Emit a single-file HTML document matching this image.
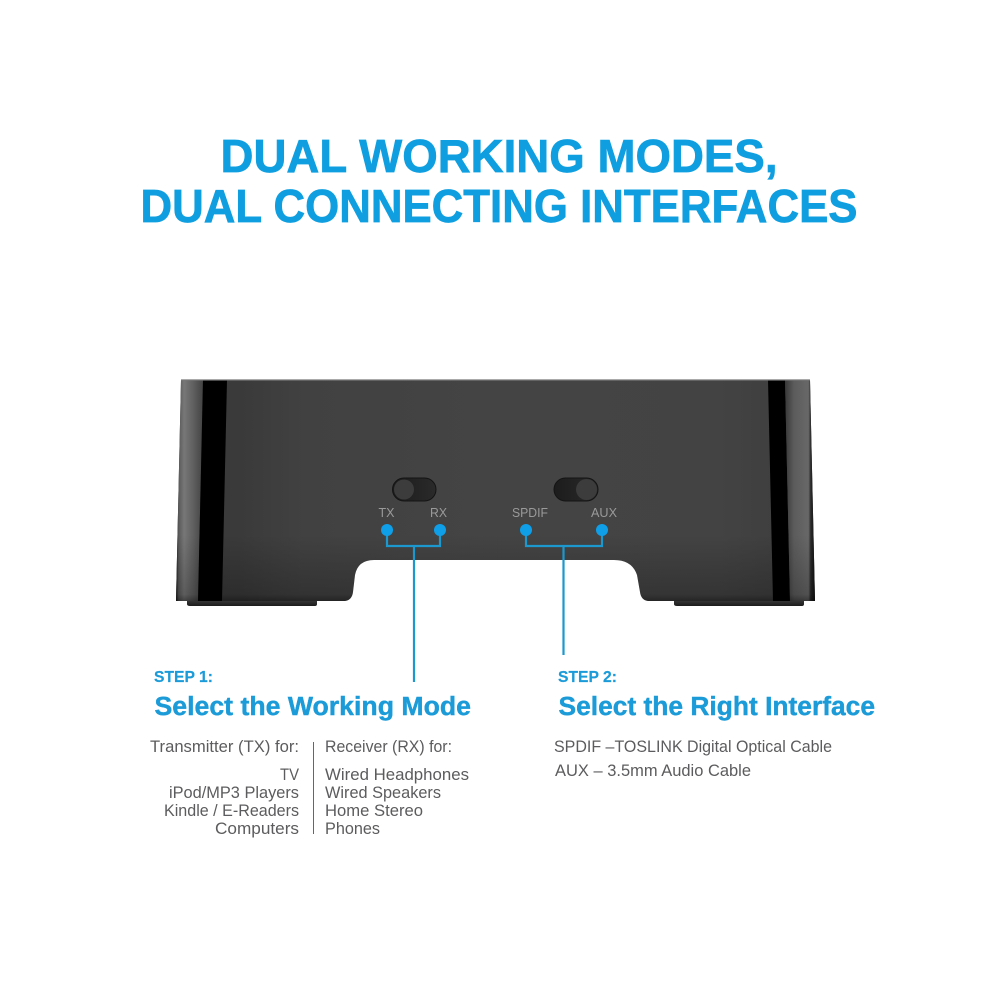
<!DOCTYPE html>
<html>
<head>
<meta charset="utf-8">
<style>
html,body{margin:0;padding:0;background:#fff;width:1000px;height:1000px;overflow:hidden}
svg{display:block}
text{font-family:"Liberation Sans",sans-serif}
.t{font-weight:bold;font-size:46.500px;fill:#0f9fe0;stroke:#0f9fe0;stroke-width:.7px}
.s{font-weight:bold;font-size:15.500px;fill:#1b9bd8;stroke:#1b9bd8;stroke-width:.2px}
.h{font-weight:bold;font-size:25.500px;fill:#1b9bd8;stroke:#1b9bd8;stroke-width:.4px}
.b{font-size:17px;fill:#5c5c5e}
.l{font-size:13px;fill:#9a9a9a}
</style>
</head>
<body>
<svg width="1000" height="1000" viewBox="0 0 1000 1000" xmlns="http://www.w3.org/2000/svg">
<defs>
<linearGradient id="body" x1="0" y1="0" x2="1" y2="0">
<stop offset="0" stop-color="#383838"/><stop offset=".1" stop-color="#3a3a3a"/><stop offset=".2" stop-color="#414141"/><stop offset=".5" stop-color="#444"/><stop offset=".85" stop-color="#434343"/><stop offset="1" stop-color="#3c3c3c"/>
</linearGradient>
<linearGradient id="shade" x1="0" y1="0" x2="0" y2="1">
<stop offset="0" stop-color="#000" stop-opacity="0"/><stop offset=".7" stop-color="#000" stop-opacity="0"/><stop offset=".97" stop-color="#000" stop-opacity=".22"/><stop offset="1" stop-color="#000" stop-opacity=".45"/>
</linearGradient>
<linearGradient id="sl" x1="0" y1="0" x2="1" y2="0">
<stop offset="0" stop-color="#1c1c1c"/><stop offset=".1" stop-color="#5a5a5a"/><stop offset=".3" stop-color="#777"/><stop offset=".65" stop-color="#5f5f5f"/><stop offset="1" stop-color="#434343"/>
</linearGradient>
<linearGradient id="sr" x1="0" y1="0" x2="1" y2="0">
<stop offset="0" stop-color="#383838"/><stop offset=".3" stop-color="#5c5c5c"/><stop offset=".78" stop-color="#686868"/><stop offset=".86" stop-color="#2a2a2a"/><stop offset="1" stop-color="#111"/>
</linearGradient>
<linearGradient id="sw" x1="0" y1="0" x2="1" y2="0">
<stop offset="0" stop-color="#1c1c1c"/><stop offset="1" stop-color="#2a2a2a"/>
</linearGradient>
<linearGradient id="foot" x1="0" y1="0" x2="0" y2="1">
<stop offset="0" stop-color="#3a3a3a"/><stop offset="1" stop-color="#1c1c1c"/>
</linearGradient>
</defs>

<text class="t" x="220.500" y="172" textLength="557" lengthAdjust="spacingAndGlyphs">DUAL WORKING MODES,</text>
<text class="t" x="140.500" y="222" textLength="717" lengthAdjust="spacingAndGlyphs">DUAL CONNECTING INTERFACES</text>

<!-- feet -->
<path d="M187 600H317V604Q317 606 315 606H190Q187 606 187 604Z" fill="url(#foot)"/>
<path d="M674 600H804V604Q804 606 802 606H677Q674 606 674 604Z" fill="url(#foot)"/>

<!-- device body -->
<path d="M181 380H810L815 601H648Q641 600 640 592L637 575Q632 560 614 560H374Q358 560 355 575L353 592Q352 600 345 601H176Z" fill="url(#body)"/>
<!-- left side -->
<path d="M181 380H203L198 601H176Z" fill="url(#sl)"/>
<path d="M203 380H227L222 601H198Z" fill="#000"/>
<!-- right side -->
<path d="M768 380H785L790 601H773Z" fill="#000"/>
<path d="M785 380H810L815 601H790Z" fill="url(#sr)"/>
<path d="M181 380H810L815 601H648Q641 600 640 592L637 575Q632 560 614 560H374Q358 560 355 575L353 592Q352 600 345 601H176Z" fill="url(#shade)"/>
<path d="M181 380H810" stroke="#777" stroke-width="1.200" fill="none"/>

<!-- switches -->
<rect x="392.500" y="478" width="43.500" height="23" rx="11.500" fill="url(#sw)" stroke="#141414" stroke-width="1"/>
<circle cx="404" cy="489.500" r="10" fill="#3c3c3c"/>
<rect x="554" y="478" width="44" height="23" rx="11.500" fill="url(#sw)" stroke="#141414" stroke-width="1"/>
<circle cx="586.500" cy="489.500" r="10.500" fill="#3c3c3c"/>

<!-- port labels -->
<text class="l" x="378.500" y="517" textLength="16" lengthAdjust="spacingAndGlyphs">TX</text>
<text class="l" x="430" y="517" textLength="17" lengthAdjust="spacingAndGlyphs">RX</text>
<text class="l" x="512" y="517" textLength="36" lengthAdjust="spacingAndGlyphs">SPDIF</text>
<text class="l" x="591" y="517" textLength="26" lengthAdjust="spacingAndGlyphs">AUX</text>

<!-- connectors -->
<g fill="none" stroke="#1c98cf" stroke-width="2.200">
<path d="M387 530V546H440V530"/>
<path d="M414 546V682"/>
<path d="M526 530V546H602V530"/>
<path d="M563.500 546V655"/>
</g>
<g fill="#0f9fe8">
<circle cx="387" cy="530" r="6"/>
<circle cx="440" cy="530" r="6"/>
<circle cx="526" cy="530" r="6"/>
<circle cx="602" cy="530" r="6"/>
</g>

<!-- step headings -->
<text class="s" x="154" y="682" textLength="59" lengthAdjust="spacingAndGlyphs">STEP 1:</text>
<text class="h" x="154.500" y="715" textLength="316.500" lengthAdjust="spacingAndGlyphs">Select the Working Mode</text>
<text class="s" x="558" y="682" textLength="59" lengthAdjust="spacingAndGlyphs">STEP 2:</text>
<text class="h" x="558.500" y="715" textLength="316.500" lengthAdjust="spacingAndGlyphs">Select the Right Interface</text>

<!-- left column -->
<text class="b" x="150" y="752" textLength="149" lengthAdjust="spacingAndGlyphs">Transmitter (TX) for:</text>
<text class="b" x="280" y="780" textLength="19" lengthAdjust="spacingAndGlyphs">TV</text>
<text class="b" x="169" y="798" textLength="130" lengthAdjust="spacingAndGlyphs">iPod/MP3 Players</text>
<text class="b" x="164" y="816" textLength="135" lengthAdjust="spacingAndGlyphs">Kindle / E-Readers</text>
<text class="b" x="215" y="834" textLength="84" lengthAdjust="spacingAndGlyphs">Computers</text>

<path d="M313.500 742V834" stroke="#666" stroke-width="1"/>

<!-- right column -->
<text class="b" x="325" y="752" textLength="127" lengthAdjust="spacingAndGlyphs">Receiver (RX) for:</text>
<text class="b" x="325" y="780" textLength="144" lengthAdjust="spacingAndGlyphs">Wired Headphones</text>
<text class="b" x="325" y="798" textLength="116" lengthAdjust="spacingAndGlyphs">Wired Speakers</text>
<text class="b" x="325" y="816" textLength="98" lengthAdjust="spacingAndGlyphs">Home Stereo</text>
<text class="b" x="325" y="834" textLength="55" lengthAdjust="spacingAndGlyphs">Phones</text>

<!-- interface text -->
<text class="b" x="554" y="752" textLength="278" lengthAdjust="spacingAndGlyphs">SPDIF –TOSLINK Digital Optical Cable</text>
<text class="b" x="555" y="776" textLength="196" lengthAdjust="spacingAndGlyphs">AUX – 3.5mm Audio Cable</text>
</svg>
</body>
</html>
